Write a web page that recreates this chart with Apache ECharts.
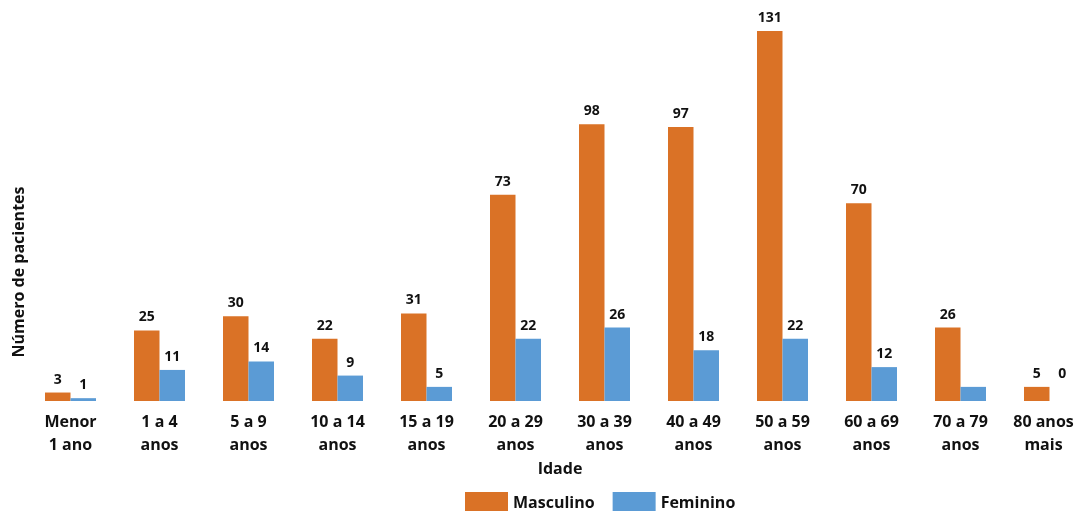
<!DOCTYPE html>
<html>
<head>
<meta charset="utf-8">
<script src="https://cdn.jsdelivr.net/npm/echarts@6/dist/echarts.min.js"></script>
<style>
  html, body { margin: 0; padding: 0; background: #fff; }
  #chart { width: 1075px; height: 511px; }
</style>
</head>
<body>
<div id="chart"></div>
<script>
const categories = [
  'Menor\n1 ano', '1 a 4\nanos', '5 a 9\nanos', '10 a 14\nanos', '15 a 19\nanos',
  '20 a 29\nanos', '30 a 39\nanos', '40 a 49\nanos', '50 a 59\nanos',
  '60 a 69\nanos', '70 a 79\nanos', '80 anos\nmais'
]
const masculino = [3, 25, 30, 22, 31, 73, 98, 97, 131, 70, 26, 5]
const feminino = [1, 11, 14, 9, 5, 22, 26, 18, 22, 12, 5, 0]

const FONT = '"Open Sans", "DejaVu Sans", sans-serif'
const ORANGE = '#DA7226'
const BLUE = '#5B9BD5'

const labelStyle = {
  show: true,
  position: 'top',
  distance: 6,
  fontFamily: FONT,
  fontSize: 14,
  fontWeight: 'bold',
  color: '#111'
}

// the source chart hides the 70 a 79 feminine label and lifts the "0"
const femData = feminino.map((v, i) => {
  if (i === 10) return { value: v, label: { show: false } }
  if (i === 11) return { value: v, label: { offset: [0, -14] } }
  return v
})

// last category label is nudged left so it stays inside the picture
const xData = categories.map((c, i) =>
  i === categories.length - 1 ? { value: c, textStyle: { padding: [0, 12, 0, 0] } } : c
)

const chart = echarts.init(document.getElementById('chart'))
chart.setOption({
  animation: false,
  grid: { left: 26, top: 31, width: 1068, bottom: 110, outerBoundsMode: 'none', containLabel: false },
  legend: {
    left: 460,
    top: 487,
    itemWidth: 43,
    itemHeight: 22,
    itemGap: 18,
    icon: 'rect',
    textStyle: { fontFamily: FONT, fontSize: 16, fontWeight: 'bold', color: '#111' },
    data: ['Masculino', 'Feminino']
  },
  xAxis: {
    type: 'category',
    data: xData,
    name: 'Idade',
    nameLocation: 'middle',
    nameGap: 58,
    nameTextStyle: { fontFamily: FONT, fontSize: 16, fontWeight: 'bold', color: '#111' },
    axisLine: { show: false },
    axisTick: { show: false },
    axisLabel: {
      interval: 0,
      margin: 10,
      lineHeight: 23,
      fontFamily: FONT,
      fontSize: 16,
      fontWeight: 'bold',
      color: '#111'
    }
  },
  yAxis: {
    type: 'value',
    min: 0,
    max: 131,
    show: false,
    splitLine: { show: false }
  },
  graphic: [{
    type: 'text',
    x: 19,
    y: 272,
    rotation: Math.PI / 2,
    style: {
      text: 'Número de pacientes',
      fontFamily: FONT,
      fontSize: 16,
      fontWeight: 'bold',
      fill: '#111',
      align: 'center',
      verticalAlign: 'middle'
    }
  }],
  series: [
    {
      name: 'Masculino',
      type: 'bar',
      data: masculino,
      barWidth: 25.5,
      barGap: '0%',
      itemStyle: { color: ORANGE },
      label: labelStyle
    },
    {
      name: 'Feminino',
      type: 'bar',
      data: femData,
      barWidth: 25.5,
      itemStyle: { color: BLUE },
      label: labelStyle
    }
  ]
})
</script>
</body>
</html>
